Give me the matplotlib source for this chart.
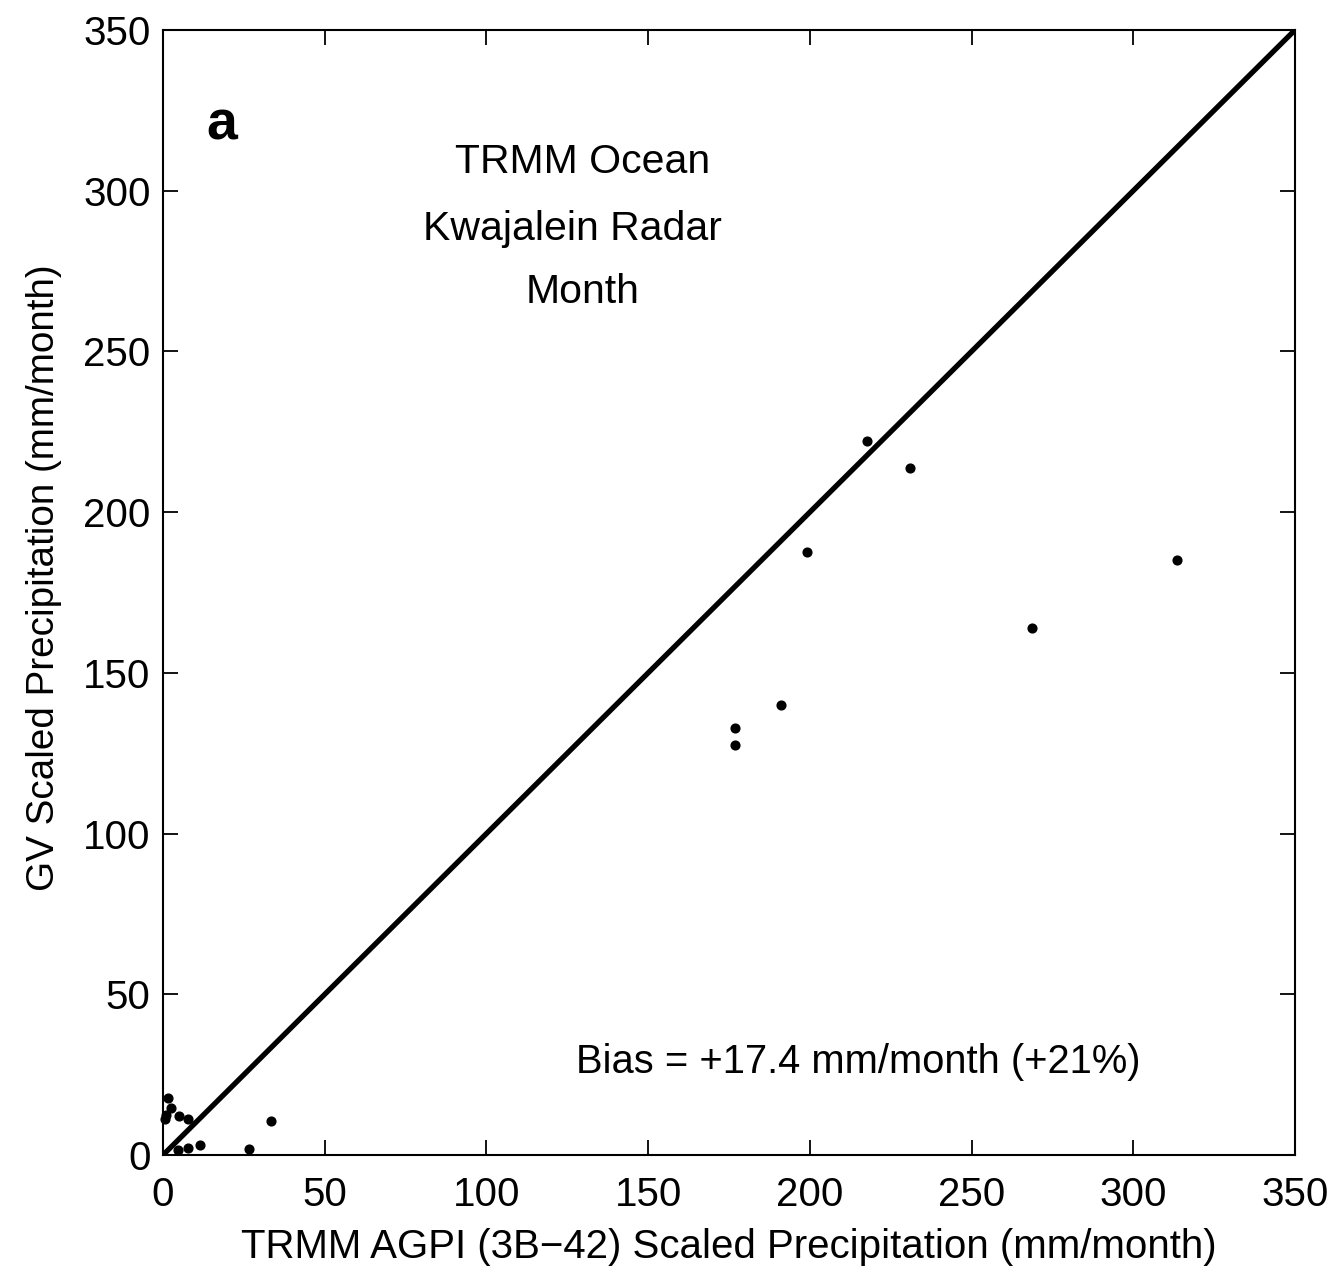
import numpy as np
import matplotlib
matplotlib.use('Agg')
import matplotlib.pyplot as plt

plt.rcParams['font.family'] = ['Liberation Sans', 'DejaVu Sans']

# AGPI (x) vs GV (y) monthly scaled precipitation, mm/month
agpi = [217.6, 231.0, 199.0, 313.6, 268.7, 191.0, 177.0, 177.0,
        1.6, 2.5, 0.6, 1.0, 5.0, 7.7, 33.4, 4.6, 7.7, 11.5, 26.6]
gv   = [222.0, 213.7, 187.5, 185.0, 164.0, 140.0, 133.0, 127.7,
        17.7, 14.6, 11.2, 12.5, 12.0, 11.2, 10.6, 1.5, 2.2, 3.0, 1.9]

ticks = [0, 50, 100, 150, 200, 250, 300, 350]

fig = plt.figure(figsize=(13.35, 12.78), dpi=100)
ax = fig.add_axes([0.1221, 0.0962, 0.8479, 0.8803])

# 1:1 line
ax.plot([0, 350], [0, 350], color='black', lw=3.8, solid_capstyle='butt')
ax.plot(agpi, gv, 'o', color='black', ms=6.3, clip_on=False)

ax.set_xlim(0, 350)
ax.set_ylim(0, 350)
ax.set_xticks(ticks)
ax.set_yticks(ticks)
for s in ax.spines.values():
    s.set_linewidth(1.5)
ax.tick_params(direction='in', length=11, width=1.3, top=True, right=True,
               labelsize=29)
ax.tick_params(axis='x', pad=15)
ax.tick_params(axis='y', pad=9)

ax.set_xlabel('TRMM AGPI (3B\u221242) Scaled Precipitation (mm/month)', fontsize=29, labelpad=10)
ax.set_ylabel('GV Scaled Precipitation (mm/month)', fontsize=27.8, labelpad=14)
ax.yaxis.set_label_coords(-0.089, 0.513)

ax.text(0.038, 0.915, 'a', transform=ax.transAxes, fontsize=40, fontweight='bold',
        ha='left', va='center')
ax.text(0.371, 0.873, 'TRMM Ocean', transform=ax.transAxes, fontsize=29.5, ha='center', va='baseline')
ax.text(0.362, 0.813, 'Kwajalein Radar', transform=ax.transAxes, fontsize=29.5, ha='center', va='baseline')
ax.text(0.371, 0.757, 'Month', transform=ax.transAxes, fontsize=29.5, ha='center', va='baseline')
ax.text(0.614, 0.073, 'Bias = +17.4 mm/month (+21%)', transform=ax.transAxes, fontsize=28.7,
        ha='center', va='baseline')

fig.savefig('out.png', dpi=100)
